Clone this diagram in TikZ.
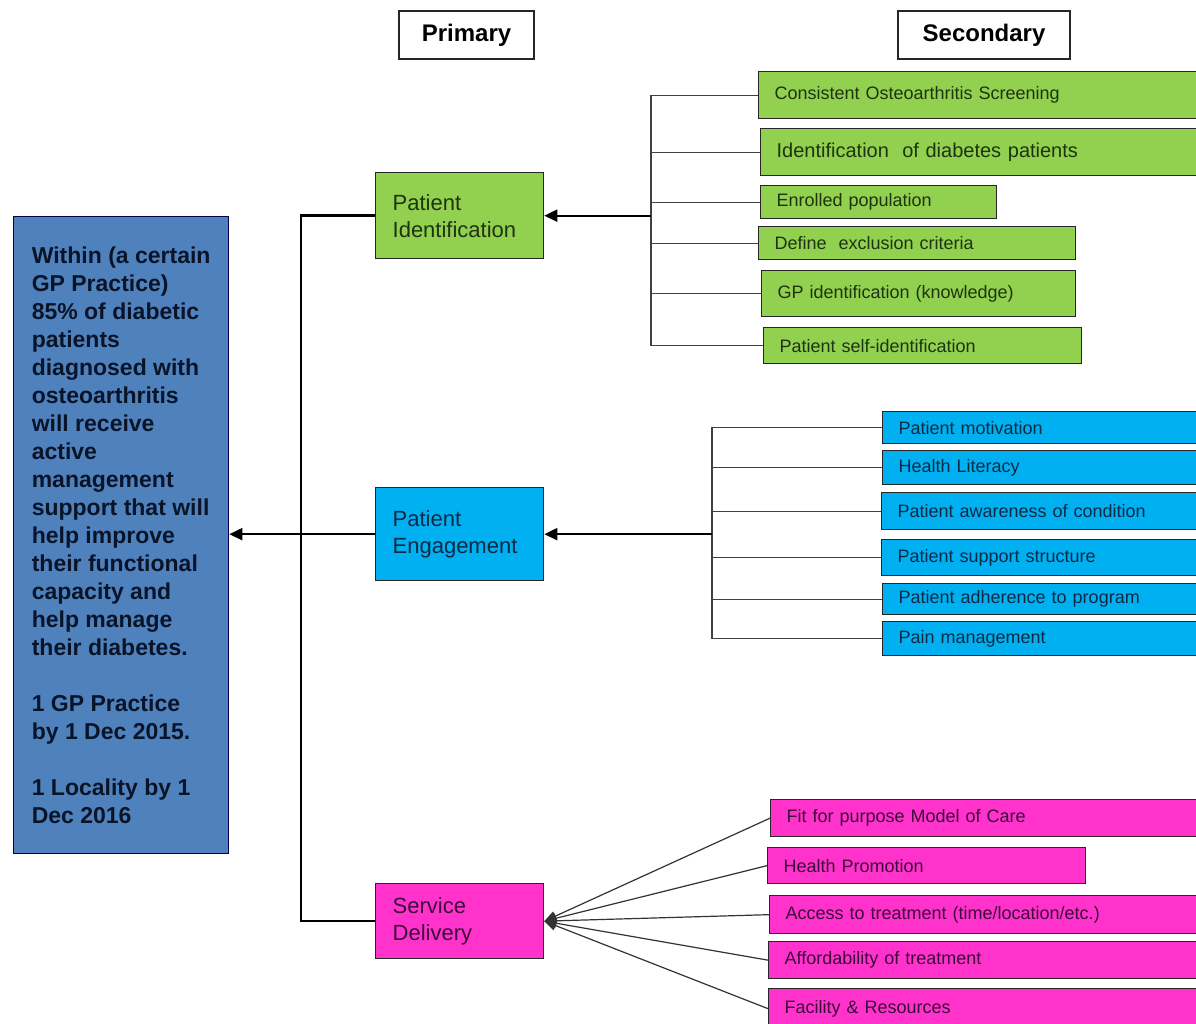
\documentclass[tikz,border=0pt]{standalone}
\usepackage{fontspec}
\setmainfont{Liberation Sans}
\usetikzlibrary{arrows.meta}
\definecolor{goalblue}{HTML}{4F81BD}
\definecolor{goaltext}{HTML}{0A1428}
\definecolor{idgreen}{HTML}{92D050}
\definecolor{idtext}{HTML}{1E3310}
\definecolor{engcyan}{HTML}{00B0F0}
\definecolor{engtext}{HTML}{0B2A45}
\definecolor{delpink}{HTML}{FF33CC}
\definecolor{deltext}{HTML}{3B0A3A}
\begin{document}
\begin{tikzpicture}[x=1pt,y=-1pt,
	box/.style={draw=black!85,line width=1.3pt,anchor=north west,inner ysep=0pt},
	head/.style={box,fill=white,line width=2pt,minimum height=48pt,font=\fontsize{24}{28}\selectfont\bfseries},
	prim/.style={box,align=left,inner xsep=17pt,text width=134pt,font=\fontsize{22}{27}\selectfont},
	sec/.style={box,inner xsep=16pt,align=left,font=\fontsize{18}{21}\selectfont},
	green/.style={sec,fill=idgreen,text=idtext},
	cyan/.style={sec,fill=engcyan,text=engtext,text width=300pt},
	pink/.style={sec,fill=delpink,text=deltext},
	trunk/.style={line width=2.5pt},
	branch/.style={line width=1.2pt,black!75},
	arr/.style={line width=2pt,-{Triangle[length=13pt,width=12pt]}},
	fan/.style={line width=1.2pt,black!80,-{Triangle[length=12pt,width=10pt]}}]
	\useasboundingbox[fill=white] (0,0) rectangle (1196,1023);
	\node [head,minimum width=135pt] (primary) at (398,10) {Primary};
	\node [head,minimum width=172pt] (secondary) at (897,10) {Secondary};
	\node [box,fill=goalblue,draw=black!70!blue,minimum width=215pt,minimum height=637pt,align=left,text=goaltext,font=\fontsize{23}{28}\selectfont\bfseries] (goal) at (13,216) {Within (a certain\\GP Practice)\\85\% of diabetic\\patients\\diagnosed with\\osteoarthritis\\will receive\\active\\management\\support that will\\help improve\\their functional\\capacity and\\help manage\\their diabetes.\\[28pt]1 GP Practice\\by 1 Dec 2015.\\[28pt]1 Locality by 1\\Dec 2016};
	\node [prim,fill=idgreen,text=idtext,minimum height=86pt] (pi) at (375,172) {Patient\\Identification};
	\node [prim,fill=engcyan,text=engtext,minimum height=93pt] (pe) at (375,487) {Patient\\Engagement};
	\node [prim,fill=delpink,text=deltext,minimum height=75pt] (sd) at (375,883) {Service\\Delivery};
	\node [green,text width=425pt,minimum height=47pt] (g1) at (758,71) {Consistent Osteoarthritis Screening};
	\node [green,text width=423pt,minimum height=47pt,font=\fontsize{20}{24}\selectfont] (g2) at (760,128) {Identification\ \ of diabetes patients};
	\node [green,text width=204pt,minimum height=33pt] (g3) at (760,185) {Enrolled population};
	\node [green,text width=285pt,minimum height=33pt] (g4) at (758,226) {Define\ \ exclusion criteria};
	\node [green,text width=282pt,minimum height=46pt] (g5) at (761,270) {GP identification (knowledge)};
	\node [green,text width=286pt,minimum height=36pt] (g6) at (763,327) {Patient self-identification};
	\node [cyan,minimum height=32pt] (c1) at (882,411) {Patient motivation};
	\node [cyan,minimum height=34pt] (c2) at (882,450) {Health Literacy};
	\node [cyan,minimum height=37pt] (c3) at (881,492) {Patient awareness of condition};
	\node [cyan,minimum height=36pt] (c4) at (881,539) {Patient support structure};
	\node [cyan,minimum height=31pt] (c5) at (882,583) {Patient adherence to program};
	\node [cyan,minimum height=34pt] (c6) at (882,621) {Pain management};
	\node [pink,text width=412pt,minimum height=37pt] (m1) at (770,799) {Fit for purpose Model of Care};
	\node [pink,text width=286pt,minimum height=36pt] (m2) at (767,847) {Health Promotion};
	\node [pink,text width=413pt,minimum height=38pt] (m3) at (769,895) {Access to treatment (time/location/etc.)};
	\node [pink,text width=414pt,minimum height=37pt] (m4) at (768,941) {Affordability of treatment};
	\node [pink,text width=414pt,minimum height=40pt] (m5) at (768,988) {Facility \& Resources};
	\draw [trunk] (pi.west) -- ++(-74,0) coordinate (bus) |- (sd.west);
	\draw [trunk] (pe.west) -- (pe.west -| bus);
	\draw [arr] (pe.west -| bus) -- (goal.east |- pe.west);
	\coordinate (gbus) at (651,0);
	\draw [branch] (g1.west) -| (gbus |- g6.west) -- (g6.west);
	\foreach \n in {g2,g3,g4,g5} \draw [branch] (\n.west) -- (gbus |- \n.west);
	\draw [arr] (gbus |- pi.east) -- (pi.east);
	\coordinate (cbus) at (712,0);
	\draw [branch] (c1.west) -| (cbus |- c6.west) -- (c6.west);
	\foreach \n in {c2,c3,c4,c5} \draw [branch] (\n.west) -- (cbus |- \n.west);
	\draw [arr] (cbus |- pe.east) -- (pe.east);
	\foreach \n in {m1,m2,m3,m4,m5} \draw [fan] (\n.west) -- (sd.east);
\end{tikzpicture}
\end{document}
